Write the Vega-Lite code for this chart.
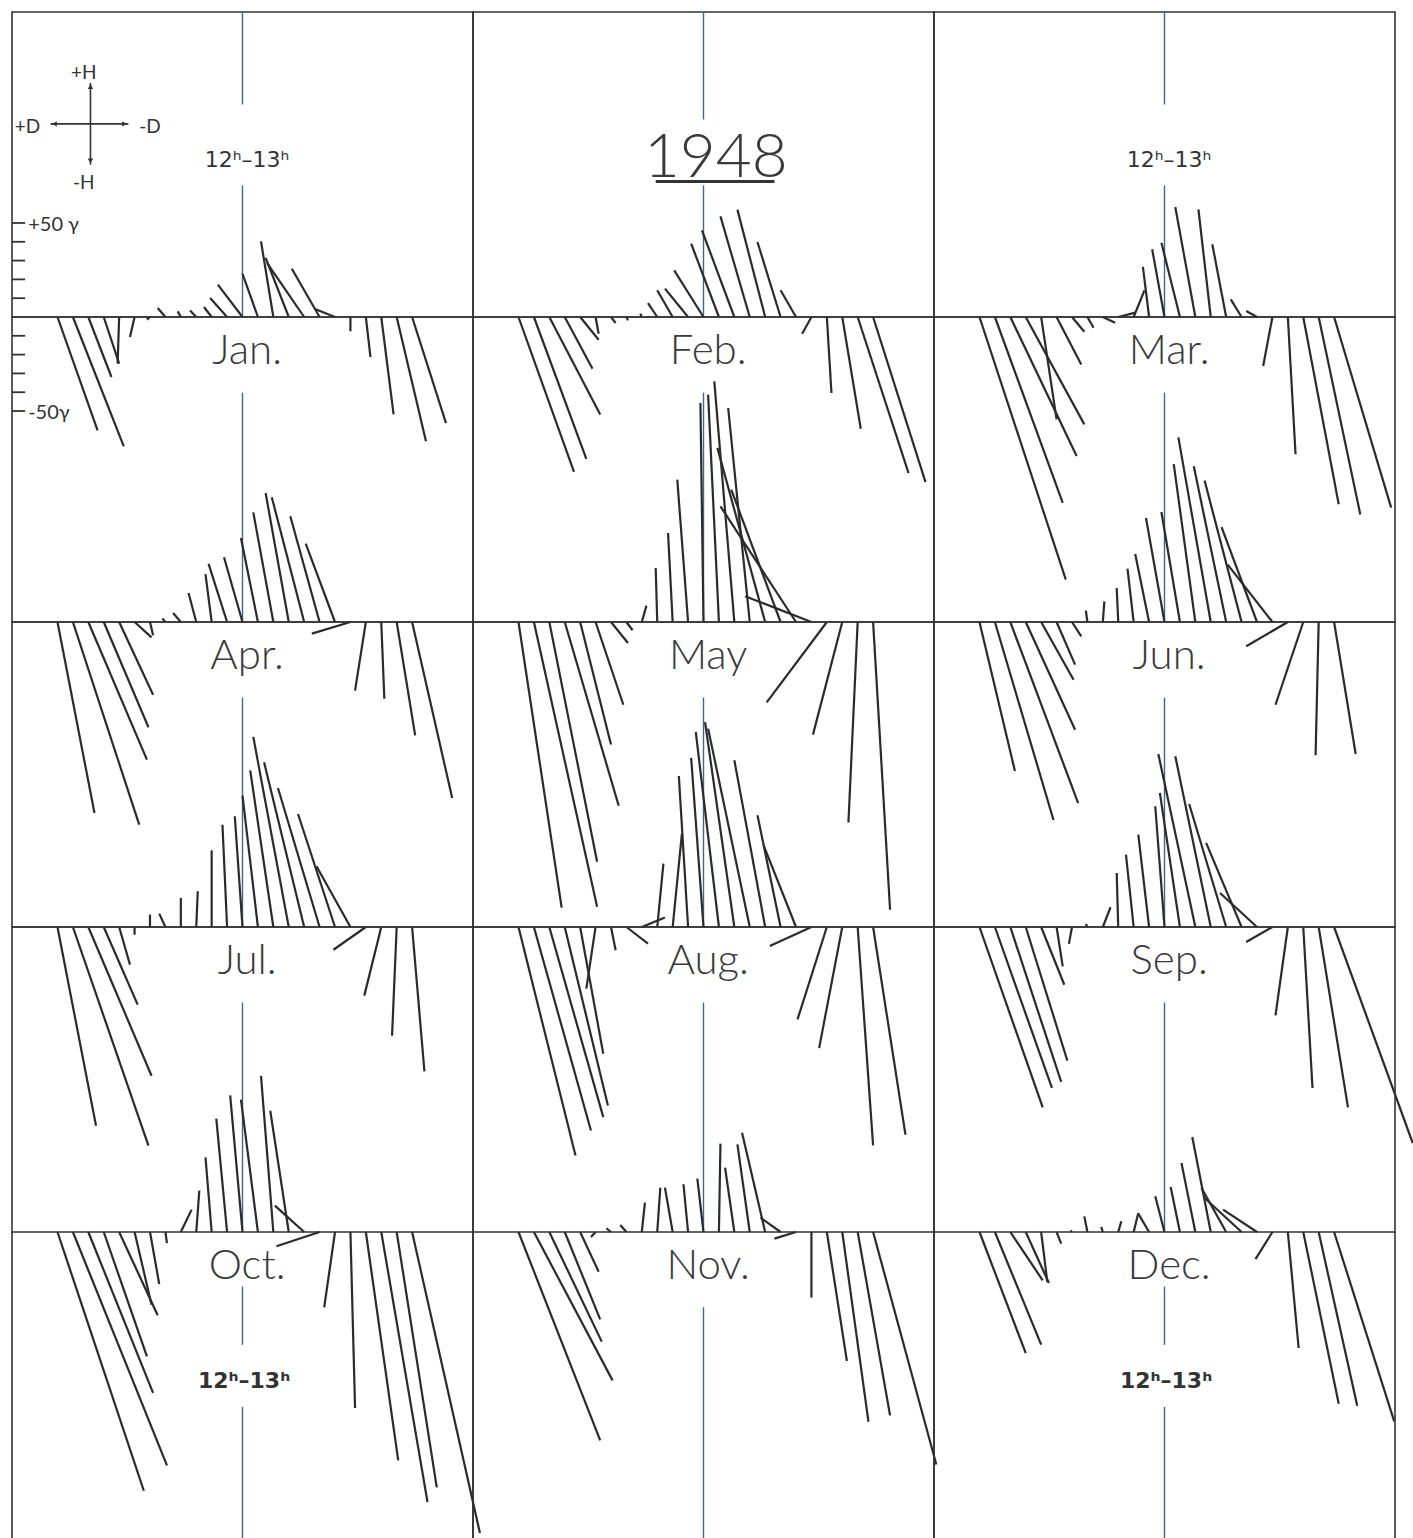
{
"$schema":"https://vega.github.io/schema/vega-lite/v6.json",
"background":"white",
"padding":{"left":10,"top":9,"right":0,"bottom":0},
"bounds":"flush",
"data":{"values":[
{"m":"Jan","h":0,"x":2.6,"y":-60.3},{"m":"Jan","h":1,"x":4.3,"y":-68.8},{"m":"Jan","h":2,"x":3.5,"y":-31.9},{"m":"Jan","h":3,"x":4.0,"y":-24.8},{"m":"Jan","h":4,"x":3.9,"y":-24.8},{"m":"Jan","h":5,"x":4.7,"y":-10.6},{"m":"Jan","h":6,"x":5.8,"y":-1.4},{"m":"Jan","h":7,"x":6.5,"y":4.8},{"m":"Jan","h":8,"x":7.8,"y":3.0},{"m":"Jan","h":9,"x":8.6,"y":3.5},{"m":"Jan","h":10,"x":9.5,"y":5.3},{"m":"Jan","h":11,"x":9.9,"y":10.1},{"m":"Jan","h":12,"x":10.4,"y":17.2},{"m":"Jan","h":13,"x":12.0,"y":23.0},{"m":"Jan","h":14,"x":13.2,"y":40.2},{"m":"Jan","h":15,"x":13.5,"y":31.4},{"m":"Jan","h":16,"x":13.6,"y":28.7},{"m":"Jan","h":17,"x":15.2,"y":25.7},{"m":"Jan","h":18,"x":16.7,"y":4.3},{"m":"Jan","h":19,"x":19.0,"y":-7.6},{"m":"Jan","h":20,"x":20.3,"y":-21.3},{"m":"Jan","h":21,"x":21.8,"y":-51.8},{"m":"Jan","h":22,"x":23.9,"y":-66.1},{"m":"Jan","h":23,"x":25.2,"y":-56.4},
{"m":"Feb","h":0,"x":3.6,"y":-82.4},{"m":"Feb","h":1,"x":4.4,"y":-75.4},{"m":"Feb","h":2,"x":5.3,"y":-51.8},{"m":"Feb","h":3,"x":4.8,"y":-27.5},{"m":"Feb","h":4,"x":5.2,"y":-12.1},{"m":"Feb","h":5,"x":5.2,"y":-8.9},{"m":"Feb","h":6,"x":6.3,"y":-3.2},{"m":"Feb","h":7,"x":7.1,"y":-1.8},{"m":"Feb","h":8,"x":7.9,"y":1.8},{"m":"Feb","h":9,"x":8.4,"y":7.4},{"m":"Feb","h":10,"x":9.0,"y":14.2},{"m":"Feb","h":11,"x":9.5,"y":15.1},{"m":"Feb","h":12,"x":10.1,"y":24.8},{"m":"Feb","h":13,"x":11.2,"y":39.0},{"m":"Feb","h":14,"x":11.9,"y":46.1},{"m":"Feb","h":15,"x":13.1,"y":53.5},{"m":"Feb","h":16,"x":14.2,"y":57.1},{"m":"Feb","h":17,"x":15.5,"y":39.9},{"m":"Feb","h":18,"x":17.0,"y":14.2},{"m":"Feb","h":19,"x":18.4,"y":-8.9},{"m":"Feb","h":20,"x":20.3,"y":-40.4},{"m":"Feb","h":21,"x":22.2,"y":-59.4},{"m":"Feb","h":22,"x":25.3,"y":-83.0},{"m":"Feb","h":23,"x":26.4,"y":-87.8},
{"m":"Mar","h":0,"x":5.6,"y":-139.7},{"m":"Mar","h":1,"x":5.4,"y":-98.8},{"m":"Mar","h":2,"x":6.3,"y":-73.9},{"m":"Mar","h":3,"x":6.8,"y":-57.1},{"m":"Mar","h":4,"x":5.0,"y":-54.4},{"m":"Mar","h":5,"x":6.6,"y":-25.2},{"m":"Mar","h":6,"x":6.8,"y":-7.8},{"m":"Mar","h":7,"x":7.4,"y":-5.7},{"m":"Mar","h":8,"x":8.8,"y":-3.0},{"m":"Mar","h":9,"x":10.1,"y":2.3},{"m":"Mar","h":10,"x":10.7,"y":14.2},{"m":"Mar","h":11,"x":10.6,"y":26.6},{"m":"Mar","h":12,"x":11.2,"y":36.0},{"m":"Mar","h":13,"x":11.8,"y":39.5},{"m":"Mar","h":14,"x":12.7,"y":58.5},{"m":"Mar","h":15,"x":14.2,"y":57.3},{"m":"Mar","h":16,"x":15.1,"y":38.7},{"m":"Mar","h":17,"x":16.3,"y":9.4},{"m":"Mar","h":18,"x":17.3,"y":3.2},{"m":"Mar","h":19,"x":18.4,"y":-26.1},{"m":"Mar","h":20,"x":20.5,"y":-73.0},{"m":"Mar","h":21,"x":23.3,"y":-99.6},{"m":"Mar","h":22,"x":24.7,"y":-105.0},{"m":"Mar","h":23,"x":26.7,"y":-101.4},
{"m":"Apr","h":0,"x":2.4,"y":-101.6},{"m":"Apr","h":1,"x":5.3,"y":-107.8},{"m":"Apr","h":2,"x":5.8,"y":-73.2},{"m":"Apr","h":3,"x":5.9,"y":-56.0},{"m":"Apr","h":4,"x":6.2,"y":-38.7},{"m":"Apr","h":5,"x":6.1,"y":-8.2},{"m":"Apr","h":6,"x":6.2,"y":-7.1},{"m":"Apr","h":7,"x":6.8,"y":1.8},{"m":"Apr","h":8,"x":7.5,"y":4.8},{"m":"Apr","h":9,"x":8.5,"y":15.4},{"m":"Apr","h":10,"x":9.6,"y":25.5},{"m":"Apr","h":11,"x":9.8,"y":30.9},{"m":"Apr","h":12,"x":10.8,"y":34.4},{"m":"Apr","h":13,"x":11.9,"y":44.7},{"m":"Apr","h":14,"x":12.7,"y":58.3},{"m":"Apr","h":15,"x":13.5,"y":68.6},{"m":"Apr","h":16,"x":13.9,"y":66.3},{"m":"Apr","h":17,"x":15.1,"y":56.2},{"m":"Apr","h":18,"x":16.1,"y":41.7},{"m":"Apr","h":19,"x":16.5,"y":-6.2},{"m":"Apr","h":20,"x":19.3,"y":-36.5},{"m":"Apr","h":21,"x":21.2,"y":-40.8},{"m":"Apr","h":22,"x":23.2,"y":-60.3},{"m":"Apr","h":23,"x":25.6,"y":-93.6},
{"m":"May","h":0,"x":2.8,"y":-151.9},{"m":"May","h":1,"x":5.1,"y":-151.4},{"m":"May","h":2,"x":5.1,"y":-127.5},{"m":"May","h":3,"x":6.5,"y":-97.7},{"m":"May","h":4,"x":6.0,"y":-65.2},{"m":"May","h":5,"x":6.8,"y":-44.0},{"m":"May","h":6,"x":7.1,"y":-11.2},{"m":"May","h":7,"x":7.4,"y":-4.4},{"m":"May","h":8,"x":8.3,"y":8.7},{"m":"May","h":9,"x":8.9,"y":28.7},{"m":"May","h":10,"x":9.7,"y":47.3},{"m":"May","h":11,"x":10.3,"y":75.7},{"m":"May","h":12,"x":11.8,"y":116.5},{"m":"May","h":13,"x":12.3,"y":120.9},{"m":"May","h":14,"x":12.7,"y":128.0},{"m":"May","h":15,"x":13.6,"y":113.8},{"m":"May","h":16,"x":12.9,"y":92.6},{"m":"May","h":17,"x":13.8,"y":70.4},{"m":"May","h":18,"x":13.1,"y":61.5},{"m":"May","h":19,"x":14.7,"y":13.7},{"m":"May","h":20,"x":16.1,"y":-42.7},{"m":"May","h":21,"x":19.1,"y":-59.9},{"m":"May","h":22,"x":21.4,"y":-106.6},{"m":"May","h":23,"x":24.1,"y":-153.0},
{"m":"Jun","h":0,"x":2.3,"y":-79.3},{"m":"Jun","h":1,"x":4.8,"y":-105.3},{"m":"Jun","h":2,"x":6.4,"y":-96.3},{"m":"Jun","h":3,"x":6.2,"y":-57.3},{"m":"Jun","h":4,"x":6.1,"y":-30.7},{"m":"Jun","h":5,"x":6.2,"y":-22.7},{"m":"Jun","h":6,"x":6.6,"y":-7.6},{"m":"Jun","h":7,"x":6.9,"y":6.0},{"m":"Jun","h":8,"x":8.1,"y":11.0},{"m":"Jun","h":9,"x":8.9,"y":18.1},{"m":"Jun","h":10,"x":9.6,"y":28.4},{"m":"Jun","h":11,"x":10.1,"y":36.2},{"m":"Jun","h":12,"x":10.8,"y":55.3},{"m":"Jun","h":13,"x":11.8,"y":58.5},{"m":"Jun","h":14,"x":12.6,"y":84.0},{"m":"Jun","h":15,"x":12.9,"y":98.2},{"m":"Jun","h":16,"x":13.9,"y":82.8},{"m":"Jun","h":17,"x":14.6,"y":75.2},{"m":"Jun","h":18,"x":15.7,"y":50.4},{"m":"Jun","h":19,"x":16.1,"y":30.5},{"m":"Jun","h":20,"x":17.3,"y":-12.9},{"m":"Jun","h":21,"x":19.2,"y":-44.0},{"m":"Jun","h":22,"x":21.8,"y":-70.9},{"m":"Jun","h":23,"x":24.4,"y":-70.2},
{"m":"Jul","h":0,"x":2.5,"y":-105.7},{"m":"Jul","h":1,"x":5.9,"y":-116.3},{"m":"Jul","h":2,"x":6.1,"y":-79.1},{"m":"Jul","h":3,"x":5.2,"y":-41.3},{"m":"Jul","h":4,"x":4.7,"y":-20.0},{"m":"Jul","h":5,"x":5.0,"y":-4.1},{"m":"Jul","h":6,"x":6.0,"y":6.6},{"m":"Jul","h":7,"x":6.6,"y":7.1},{"m":"Jul","h":8,"x":8.0,"y":15.4},{"m":"Jul","h":9,"x":9.1,"y":19.0},{"m":"Jul","h":10,"x":10.0,"y":40.8},{"m":"Jul","h":11,"x":10.7,"y":54.4},{"m":"Jul","h":12,"x":11.5,"y":58.9},{"m":"Jul","h":13,"x":12.0,"y":69.9},{"m":"Jul","h":14,"x":12.5,"y":83.3},{"m":"Jul","h":15,"x":12.7,"y":101.1},{"m":"Jul","h":16,"x":13.4,"y":87.6},{"m":"Jul","h":17,"x":14.3,"y":73.9},{"m":"Jul","h":18,"x":15.6,"y":60.1},{"m":"Jul","h":19,"x":16.8,"y":32.3},{"m":"Jul","h":20,"x":17.9,"y":-12.1},{"m":"Jul","h":21,"x":19.9,"y":-36.5},{"m":"Jul","h":22,"x":21.7,"y":-57.8},{"m":"Jul","h":23,"x":23.8,"y":-76.8},
{"m":"Aug","h":0,"x":3.7,"y":-121.5},{"m":"Aug","h":1,"x":4.7,"y":-108.2},{"m":"Aug","h":2,"x":5.5,"y":-101.1},{"m":"Aug","h":3,"x":5.8,"y":-94.9},{"m":"Aug","h":4,"x":5.5,"y":-67.4},{"m":"Aug","h":5,"x":4.4,"y":-32.8},{"m":"Aug","h":6,"x":6.3,"y":-12.4},{"m":"Aug","h":7,"x":8.4,"y":-8.9},{"m":"Aug","h":8,"x":9.5,"y":5.0},{"m":"Aug","h":9,"x":9.4,"y":33.7},{"m":"Aug","h":10,"x":10.6,"y":49.6},{"m":"Aug","h":11,"x":10.4,"y":80.3},{"m":"Aug","h":12,"x":11.2,"y":89.9},{"m":"Aug","h":13,"x":11.5,"y":103.7},{"m":"Aug","h":14,"x":12.1,"y":109.0},{"m":"Aug","h":15,"x":12.3,"y":105.5},{"m":"Aug","h":16,"x":14.0,"y":88.7},{"m":"Aug","h":17,"x":15.5,"y":59.4},{"m":"Aug","h":18,"x":15.9,"y":43.4},{"m":"Aug","h":19,"x":16.3,"y":-10.1},{"m":"Aug","h":20,"x":18.1,"y":-49.1},{"m":"Aug","h":21,"x":19.5,"y":-64.4},{"m":"Aug","h":22,"x":23.0,"y":-116.1},{"m":"Aug","h":23,"x":25.1,"y":-110.5},
{"m":"Sep","h":0,"x":4.1,"y":-95.9},{"m":"Sep","h":1,"x":4.7,"y":-85.6},{"m":"Sep","h":2,"x":5.3,"y":-82.4},{"m":"Sep","h":3,"x":5.7,"y":-71.1},{"m":"Sep","h":4,"x":5.5,"y":-30.7},{"m":"Sep","h":5,"x":5.4,"y":-20.9},{"m":"Sep","h":6,"x":5.8,"y":-9.0},{"m":"Sep","h":7,"x":6.9,"y":1.6},{"m":"Sep","h":8,"x":8.5,"y":10.5},{"m":"Sep","h":9,"x":8.9,"y":28.7},{"m":"Sep","h":10,"x":9.5,"y":38.5},{"m":"Sep","h":11,"x":10.3,"y":49.1},{"m":"Sep","h":12,"x":11.4,"y":64.2},{"m":"Sep","h":13,"x":11.7,"y":71.3},{"m":"Sep","h":14,"x":11.6,"y":92.0},{"m":"Sep","h":15,"x":12.7,"y":90.8},{"m":"Sep","h":16,"x":13.6,"y":65.4},{"m":"Sep","h":17,"x":14.7,"y":44.7},{"m":"Sep","h":18,"x":15.6,"y":18.1},{"m":"Sep","h":19,"x":17.3,"y":-8.0},{"m":"Sep","h":20,"x":19.2,"y":-47.0},{"m":"Sep","h":21,"x":21.6,"y":-85.6},{"m":"Sep","h":22,"x":23.9,"y":-95.9},{"m":"Sep","h":23,"x":28.1,"y":-114.9},
{"m":"Oct","h":0,"x":5.6,"y":-137.6},{"m":"Oct","h":1,"x":7.1,"y":-124.1},{"m":"Oct","h":2,"x":6.2,"y":-85.6},{"m":"Oct","h":3,"x":5.8,"y":-66.1},{"m":"Oct","h":4,"x":6.5,"y":-44.3},{"m":"Oct","h":5,"x":6.1,"y":-38.7},{"m":"Oct","h":6,"x":6.6,"y":-27.7},{"m":"Oct","h":7,"x":7.1,"y":-5.9},{"m":"Oct","h":8,"x":8.7,"y":11.9},{"m":"Oct","h":9,"x":9.2,"y":22.0},{"m":"Oct","h":10,"x":9.6,"y":39.7},{"m":"Oct","h":11,"x":10.3,"y":60.3},{"m":"Oct","h":12,"x":11.2,"y":72.7},{"m":"Oct","h":13,"x":11.9,"y":70.4},{"m":"Oct","h":14,"x":13.2,"y":83.0},{"m":"Oct","h":15,"x":13.8,"y":64.5},{"m":"Oct","h":16,"x":14.1,"y":14.0},{"m":"Oct","h":17,"x":14.2,"y":-7.6},{"m":"Oct","h":18,"x":17.3,"y":-40.1},{"m":"Oct","h":19,"x":19.3,"y":-93.6},{"m":"Oct","h":20,"x":22.1,"y":-121.5},{"m":"Oct","h":21,"x":24.0,"y":-143.6},{"m":"Oct","h":22,"x":24.6,"y":-135.8},{"m":"Oct","h":23,"x":27.4,"y":-160.1},
{"m":"Nov","h":0,"x":5.3,"y":-110.8},{"m":"Nov","h":1,"x":6.1,"y":-78.9},{"m":"Nov","h":2,"x":5.4,"y":-58.3},{"m":"Nov","h":3,"x":5.3,"y":-46.5},{"m":"Nov","h":4,"x":5.2,"y":-21.1},{"m":"Nov","h":5,"x":4.7,"y":-2.7},{"m":"Nov","h":6,"x":5.7,"y":2.0},{"m":"Nov","h":7,"x":6.6,"y":3.7},{"m":"Nov","h":8,"x":8.2,"y":15.6},{"m":"Nov","h":9,"x":9.2,"y":23.6},{"m":"Nov","h":10,"x":9.5,"y":23.6},{"m":"Nov","h":11,"x":10.7,"y":25.4},{"m":"Nov","h":12,"x":11.6,"y":28.4},{"m":"Nov","h":13,"x":13.1,"y":47.0},{"m":"Nov","h":14,"x":13.4,"y":34.2},{"m":"Nov","h":15,"x":14.2,"y":46.6},{"m":"Nov","h":16,"x":14.5,"y":52.8},{"m":"Nov","h":17,"x":15.7,"y":7.6},{"m":"Nov","h":18,"x":16.6,"y":-3.5},{"m":"Nov","h":19,"x":19.0,"y":-34.9},{"m":"Nov","h":20,"x":21.3,"y":-68.6},{"m":"Nov","h":21,"x":22.7,"y":-100.9},{"m":"Nov","h":22,"x":24.1,"y":-97.5},{"m":"Nov","h":23,"x":27.1,"y":-123.6},
{"m":"Dec","h":0,"x":3.0,"y":-64.4},{"m":"Dec","h":1,"x":4.0,"y":-59.9},{"m":"Dec","h":2,"x":4.1,"y":-25.7},{"m":"Dec","h":3,"x":4.5,"y":-27.1},{"m":"Dec","h":4,"x":4.4,"y":-26.6},{"m":"Dec","h":5,"x":5.3,"y":-6.2},{"m":"Dec","h":6,"x":5.9,"y":0.7},{"m":"Dec","h":7,"x":6.8,"y":8.3},{"m":"Dec","h":8,"x":7.9,"y":2.7},{"m":"Dec","h":9,"x":9.2,"y":5.7},{"m":"Dec","h":10,"x":10.3,"y":10.1},{"m":"Dec","h":11,"x":10.3,"y":9.8},{"m":"Dec","h":12,"x":11.4,"y":19.0},{"m":"Dec","h":13,"x":12.4,"y":23.9},{"m":"Dec","h":14,"x":13.1,"y":36.7},{"m":"Dec","h":15,"x":13.8,"y":50.5},{"m":"Dec","h":16,"x":14.4,"y":23.4},{"m":"Dec","h":17,"x":14.6,"y":18.1},{"m":"Dec","h":18,"x":15.8,"y":11.9},{"m":"Dec","h":19,"x":17.9,"y":-14.4},{"m":"Dec","h":20,"x":20.7,"y":-61.7},{"m":"Dec","h":21,"x":23.3,"y":-91.3},{"m":"Dec","h":22,"x":24.5,"y":-92.4},{"m":"Dec","h":23,"x":26.9,"y":-100.7},
{"m":"Jan","k":"name","t":"Jan."},{"m":"Feb","k":"name","t":"Feb."},{"m":"Mar","k":"name","t":"Mar."},{"m":"Apr","k":"name","t":"Apr."},{"m":"May","k":"name","t":"May"},{"m":"Jun","k":"name","t":"Jun."},{"m":"Jul","k":"name","t":"Jul."},{"m":"Aug","k":"name","t":"Aug."},{"m":"Sep","k":"name","t":"Sep."},{"m":"Oct","k":"name","t":"Oct."},{"m":"Nov","k":"name","t":"Nov."},{"m":"Dec","k":"name","t":"Dec."},
{"m":"Jan","k":"top","t":"12ʰ–13ʰ"},{"m":"Mar","k":"top","t":"12ʰ–13ʰ"},{"m":"Oct","k":"bottom","t":"12ʰ–13ʰ"},{"m":"Dec","k":"bottom","t":"12ʰ–13ʰ"},
{"m":"Feb","k":"year","t":"1948"},
{"m":"Jan","k":"leg","t":"+H"},{"m":"Jan","k":"leg","t":"-H"},{"m":"Jan","k":"leg","t":"+D"},{"m":"Jan","k":"leg","t":"-D"},{"m":"Jan","k":"leg","t":"+50 γ"},{"m":"Jan","k":"leg","t":"-50γ"},
{"m":"Jan","k":"tick","v":50},{"m":"Jan","k":"tick","v":40},{"m":"Jan","k":"tick","v":30},{"m":"Jan","k":"tick","v":20},{"m":"Jan","k":"tick","v":10},{"m":"Jan","k":"tick","v":-10},{"m":"Jan","k":"tick","v":-20},{"m":"Jan","k":"tick","v":-30},{"m":"Jan","k":"tick","v":-40},{"m":"Jan","k":"tick","v":-50}
]},
"facet":{"field":"m","type":"nominal","sort":["Jan","Feb","Mar","Apr","May","Jun","Jul","Aug","Sep","Oct","Nov","Dec"],"header":{"labels":false,"title":null,"labelPadding":0,"titlePadding":0,"labelFontSize":1,"labelColor":"transparent"}},
"columns":3,
"spacing":0,
"spec":{
"width":461,"height":305,
"layer":[
{"transform":[{"filter":"datum.k=='name' && indexof(['Apr','May','Jun','Jul','Aug','Sep','Oct','Nov','Dec'], datum.m) >= 0"}],
 "mark":{"type":"rule","stroke":"#3b6790","strokeWidth":1.4},
 "encoding":{"x":{"datum":12,"type":"quantitative","scale":{"domain":[-2.95,26.95],"nice":false,"zero":false},"axis":null},"y":{"datum":0,"type":"quantitative","scale":{"domain":[0,162.2],"nice":false,"zero":false},"axis":null},"y2":{"datum":122}}},
{"transform":[{"filter":"datum.k=='name' && indexof(['Jan','Feb','Mar'], datum.m) >= 0"}],
 "mark":{"type":"rule","stroke":"#3b6790","strokeWidth":1.4},
 "encoding":{"x":{"datum":12,"type":"quantitative","scale":{"domain":[-2.95,26.95],"nice":false,"zero":false},"axis":null},"y":{"datum":0,"type":"quantitative","scale":{"domain":[0,162.2],"nice":false,"zero":false},"axis":null},"y2":{"datum":70}}},
{"transform":[{"filter":"datum.k=='name' && indexof(['Jan','Mar'], datum.m) >= 0"}],
 "mark":{"type":"rule","stroke":"#3b6790","strokeWidth":1.4},
 "encoding":{"x":{"datum":12,"type":"quantitative","scale":{"domain":[-2.95,26.95],"nice":false,"zero":false},"axis":null},"y":{"datum":113,"type":"quantitative","scale":{"domain":[0,162.2],"nice":false,"zero":false},"axis":null},"y2":{"datum":162.2}}},
{"transform":[{"filter":"datum.k=='name' && datum.m=='Feb'"}],
 "mark":{"type":"rule","stroke":"#3b6790","strokeWidth":1.4},
 "encoding":{"x":{"datum":12,"type":"quantitative","scale":{"domain":[-2.95,26.95],"nice":false,"zero":false},"axis":null},"y":{"datum":105,"type":"quantitative","scale":{"domain":[0,162.2],"nice":false,"zero":false},"axis":null},"y2":{"datum":162.2}}},
{"transform":[{"filter":"datum.k=='name' && indexof(['Oct','Dec'], datum.m) >= 0"}],
 "mark":{"type":"rule","stroke":"#3b6790","strokeWidth":1.4},
 "encoding":{"x":{"datum":12,"type":"quantitative","scale":{"domain":[-2.95,26.95],"nice":false,"zero":false},"axis":null},"y":{"datum":-29,"type":"quantitative","scale":{"domain":[0,162.2],"nice":false,"zero":false},"axis":null},"y2":{"datum":-60}}},
{"transform":[{"filter":"datum.k=='name' && indexof(['Oct','Dec'], datum.m) >= 0"}],
 "mark":{"type":"rule","stroke":"#3b6790","strokeWidth":1.4},
 "encoding":{"x":{"datum":12,"type":"quantitative","scale":{"domain":[-2.95,26.95],"nice":false,"zero":false},"axis":null},"y":{"datum":-93,"type":"quantitative","scale":{"domain":[0,162.2],"nice":false,"zero":false},"axis":null},"y2":{"datum":-166}}},
{"transform":[{"filter":"datum.k=='name' && datum.m=='Nov'"}],
 "mark":{"type":"rule","stroke":"#3b6790","strokeWidth":1.4},
 "encoding":{"x":{"datum":12,"type":"quantitative","scale":{"domain":[-2.95,26.95],"nice":false,"zero":false},"axis":null},"y":{"datum":-40,"type":"quantitative","scale":{"domain":[0,162.2],"nice":false,"zero":false},"axis":null},"y2":{"datum":-166}}},
{"transform":[{"filter":"datum.k=='name' && indexof(['Oct','Nov','Dec'], datum.m) >= 0"}],
 "mark":{"type":"rule","stroke":"#333","strokeWidth":1.6},
 "encoding":{"x":{"datum":-2.95,"type":"quantitative","scale":{"domain":[-2.95,26.95],"nice":false,"zero":false},"axis":null},"y":{"datum":0,"type":"quantitative","scale":{"domain":[0,162.2],"nice":false,"zero":false},"axis":null},"y2":{"datum":-166}}},
{"transform":[{"filter":"datum.k=='name' && indexof(['Oct','Nov','Dec'], datum.m) >= 0"}],
 "mark":{"type":"rule","stroke":"#333","strokeWidth":1.6},
 "encoding":{"x":{"datum":26.95,"type":"quantitative","scale":{"domain":[-2.95,26.95],"nice":false,"zero":false},"axis":null},"y":{"datum":0,"type":"quantitative","scale":{"domain":[0,162.2],"nice":false,"zero":false},"axis":null},"y2":{"datum":-166}}},
{"transform":[{"filter":"isValid(datum.h)"}],
 "mark":{"type":"rule","stroke":"#2b2b2b","strokeWidth":2.2},
 "encoding":{"x":{"field":"x","type":"quantitative","scale":{"domain":[-2.95,26.95],"nice":false,"zero":false},"axis":null},"x2":{"field":"h"},"y":{"field":"y","type":"quantitative","scale":{"domain":[0,162.2],"nice":false,"zero":false},"axis":null},"y2":{"datum":0}}},
{"transform":[{"filter":"datum.k=='name'"}],
 "mark":{"type":"text","font":"Lato","fontWeight":300,"fontSize":42,"color":"#3a3a3a","align":"center","baseline":"alphabetic"},
 "encoding":{"text":{"field":"t"},"x":{"datum":12.3,"type":"quantitative","scale":{"domain":[-2.95,26.95],"nice":false,"zero":false},"axis":null},"y":{"datum":-25,"type":"quantitative","scale":{"domain":[0,162.2],"nice":false,"zero":false},"axis":null}}},
{"transform":[{"filter":"datum.k=='top'"}],
 "mark":{"type":"text","font":"DejaVu Sans","fontSize":22,"color":"#333","align":"center","baseline":"alphabetic"},
 "encoding":{"text":{"field":"t"},"x":{"datum":12.3,"type":"quantitative","scale":{"domain":[-2.95,26.95],"nice":false,"zero":false},"axis":null},"y":{"datum":80,"type":"quantitative","scale":{"domain":[0,162.2],"nice":false,"zero":false},"axis":null}}},
{"transform":[{"filter":"datum.k=='bottom'"}],
 "mark":{"type":"text","font":"DejaVu Sans","fontWeight":"bold","fontSize":22,"color":"#333","align":"center","baseline":"alphabetic"},
 "encoding":{"text":{"field":"t"},"x":{"datum":12.1,"type":"quantitative","scale":{"domain":[-2.95,26.95],"nice":false,"zero":false},"axis":null},"y":{"datum":-83,"type":"quantitative","scale":{"domain":[0,162.2],"nice":false,"zero":false},"axis":null}}},
{"transform":[{"filter":"datum.k=='year'"}],
 "mark":{"type":"text","font":"Lato","fontWeight":300,"fontSize":62,"color":"#3a3a3a","align":"center","baseline":"alphabetic"},
 "encoding":{"text":{"field":"t"},"x":{"datum":12.8,"type":"quantitative","scale":{"domain":[-2.95,26.95],"nice":false,"zero":false},"axis":null},"y":{"datum":74.5,"type":"quantitative","scale":{"domain":[0,162.2],"nice":false,"zero":false},"axis":null}}},
{"transform":[{"filter":"datum.k=='year'"}],
 "mark":{"type":"rule","stroke":"#333","strokeWidth":3},
 "encoding":{"x":{"datum":8.9,"type":"quantitative","scale":{"domain":[-2.95,26.95],"nice":false,"zero":false},"axis":null},"x2":{"datum":16.6},"y":{"datum":72,"type":"quantitative","scale":{"domain":[0,162.2],"nice":false,"zero":false},"axis":null}}},
{"transform":[{"filter":"datum.k=='tick'"}],
 "mark":{"type":"rule","stroke":"#333","strokeWidth":1.8},
 "encoding":{"x":{"datum":-2.95,"type":"quantitative","scale":{"domain":[-2.95,26.95],"nice":false,"zero":false},"axis":null},"x2":{"datum":-2.1},"y":{"field":"v","type":"quantitative","scale":{"domain":[0,162.2],"nice":false,"zero":false},"axis":null}}},
{"transform":[{"filter":"datum.k=='leg' && datum.t=='+H'"}],
 "mark":{"type":"text","font":"Lato","fontSize":19,"color":"#333","align":"center","baseline":"middle"},
 "encoding":{"text":{"field":"t"},"x":{"datum":1.7,"type":"quantitative","scale":{"domain":[-2.95,26.95],"nice":false,"zero":false},"axis":null},"y":{"datum":129.8,"type":"quantitative","scale":{"domain":[0,162.2],"nice":false,"zero":false},"axis":null}}},
{"transform":[{"filter":"datum.k=='leg' && datum.t=='-H'"}],
 "mark":{"type":"text","font":"Lato","fontSize":19,"color":"#333","align":"center","baseline":"middle"},
 "encoding":{"text":{"field":"t"},"x":{"datum":1.7,"type":"quantitative","scale":{"domain":[-2.95,26.95],"nice":false,"zero":false},"axis":null},"y":{"datum":71.3,"type":"quantitative","scale":{"domain":[0,162.2],"nice":false,"zero":false},"axis":null}}},
{"transform":[{"filter":"datum.k=='leg' && datum.t=='+D'"}],
 "mark":{"type":"text","font":"Lato","fontSize":19,"color":"#333","align":"center","baseline":"middle"},
 "encoding":{"text":{"field":"t"},"x":{"datum":-1.95,"type":"quantitative","scale":{"domain":[-2.95,26.95],"nice":false,"zero":false},"axis":null},"y":{"datum":101.1,"type":"quantitative","scale":{"domain":[0,162.2],"nice":false,"zero":false},"axis":null}}},
{"transform":[{"filter":"datum.k=='leg' && datum.t=='-D'"}],
 "mark":{"type":"text","font":"Lato","fontSize":19,"color":"#333","align":"center","baseline":"middle"},
 "encoding":{"text":{"field":"t"},"x":{"datum":6.0,"type":"quantitative","scale":{"domain":[-2.95,26.95],"nice":false,"zero":false},"axis":null},"y":{"datum":101.1,"type":"quantitative","scale":{"domain":[0,162.2],"nice":false,"zero":false},"axis":null}}},
{"transform":[{"filter":"datum.k=='leg' && datum.t=='+50 γ'"}],
 "mark":{"type":"text","font":"Lato","fontSize":20,"color":"#333","align":"left","baseline":"middle"},
 "encoding":{"text":{"field":"t"},"x":{"datum":-1.9,"type":"quantitative","scale":{"domain":[-2.95,26.95],"nice":false,"zero":false},"axis":null},"y":{"datum":49,"type":"quantitative","scale":{"domain":[0,162.2],"nice":false,"zero":false},"axis":null}}},
{"transform":[{"filter":"datum.k=='leg' && datum.t=='-50γ'"}],
 "mark":{"type":"text","font":"Lato","fontSize":20,"color":"#333","align":"left","baseline":"middle"},
 "encoding":{"text":{"field":"t"},"x":{"datum":-1.9,"type":"quantitative","scale":{"domain":[-2.95,26.95],"nice":false,"zero":false},"axis":null},"y":{"datum":-51,"type":"quantitative","scale":{"domain":[0,162.2],"nice":false,"zero":false},"axis":null}}},
{"transform":[{"filter":"datum.k=='leg' && datum.t=='+H'"}],
 "mark":{"type":"rule","stroke":"#333","strokeWidth":1.6},
 "encoding":{"x":{"datum":2.14,"type":"quantitative","scale":{"domain":[-2.95,26.95],"nice":false,"zero":false},"axis":null},"y":{"datum":81,"type":"quantitative","scale":{"domain":[0,162.2],"nice":false,"zero":false},"axis":null},"y2":{"datum":124.5}}},
{"transform":[{"filter":"datum.k=='leg' && datum.t=='+H'"}],
 "mark":{"type":"rule","stroke":"#333","strokeWidth":1.6},
 "encoding":{"x":{"datum":-0.45,"type":"quantitative","scale":{"domain":[-2.95,26.95],"nice":false,"zero":false},"axis":null},"x2":{"datum":4.6},"y":{"datum":102.7,"type":"quantitative","scale":{"domain":[0,162.2],"nice":false,"zero":false},"axis":null}}},
{"transform":[{"filter":"datum.k=='leg' && datum.t=='+H'"}],
 "mark":{"type":"point","shape":"triangle-up","filled":true,"size":30,"color":"#333","opacity":1},
 "encoding":{"x":{"datum":2.14,"type":"quantitative","scale":{"domain":[-2.95,26.95],"nice":false,"zero":false},"axis":null},"y":{"datum":122.5,"type":"quantitative","scale":{"domain":[0,162.2],"nice":false,"zero":false},"axis":null}}},
{"transform":[{"filter":"datum.k=='leg' && datum.t=='+H'"}],
 "mark":{"type":"point","shape":"triangle-down","filled":true,"size":30,"color":"#333","opacity":1},
 "encoding":{"x":{"datum":2.14,"type":"quantitative","scale":{"domain":[-2.95,26.95],"nice":false,"zero":false},"axis":null},"y":{"datum":83,"type":"quantitative","scale":{"domain":[0,162.2],"nice":false,"zero":false},"axis":null}}},
{"transform":[{"filter":"datum.k=='leg' && datum.t=='+H'"}],
 "mark":{"type":"point","shape":"triangle-left","filled":true,"size":30,"color":"#333","opacity":1},
 "encoding":{"x":{"datum":-0.2,"type":"quantitative","scale":{"domain":[-2.95,26.95],"nice":false,"zero":false},"axis":null},"y":{"datum":102.7,"type":"quantitative","scale":{"domain":[0,162.2],"nice":false,"zero":false},"axis":null}}},
{"transform":[{"filter":"datum.k=='leg' && datum.t=='+H'"}],
 "mark":{"type":"point","shape":"triangle-right","filled":true,"size":30,"color":"#333","opacity":1},
 "encoding":{"x":{"datum":4.35,"type":"quantitative","scale":{"domain":[-2.95,26.95],"nice":false,"zero":false},"axis":null},"y":{"datum":102.7,"type":"quantitative","scale":{"domain":[0,162.2],"nice":false,"zero":false},"axis":null}}}
]},
"config":{"view":{"stroke":"#333","strokeWidth":1.6},"header":{"labels":false,"title":null,"labelFontSize":1,"labelColor":"transparent","labelPadding":0},"headerFacet":{"labels":false,"title":null,"labelFontSize":1,"labelColor":"transparent","labelPadding":0}}
}
